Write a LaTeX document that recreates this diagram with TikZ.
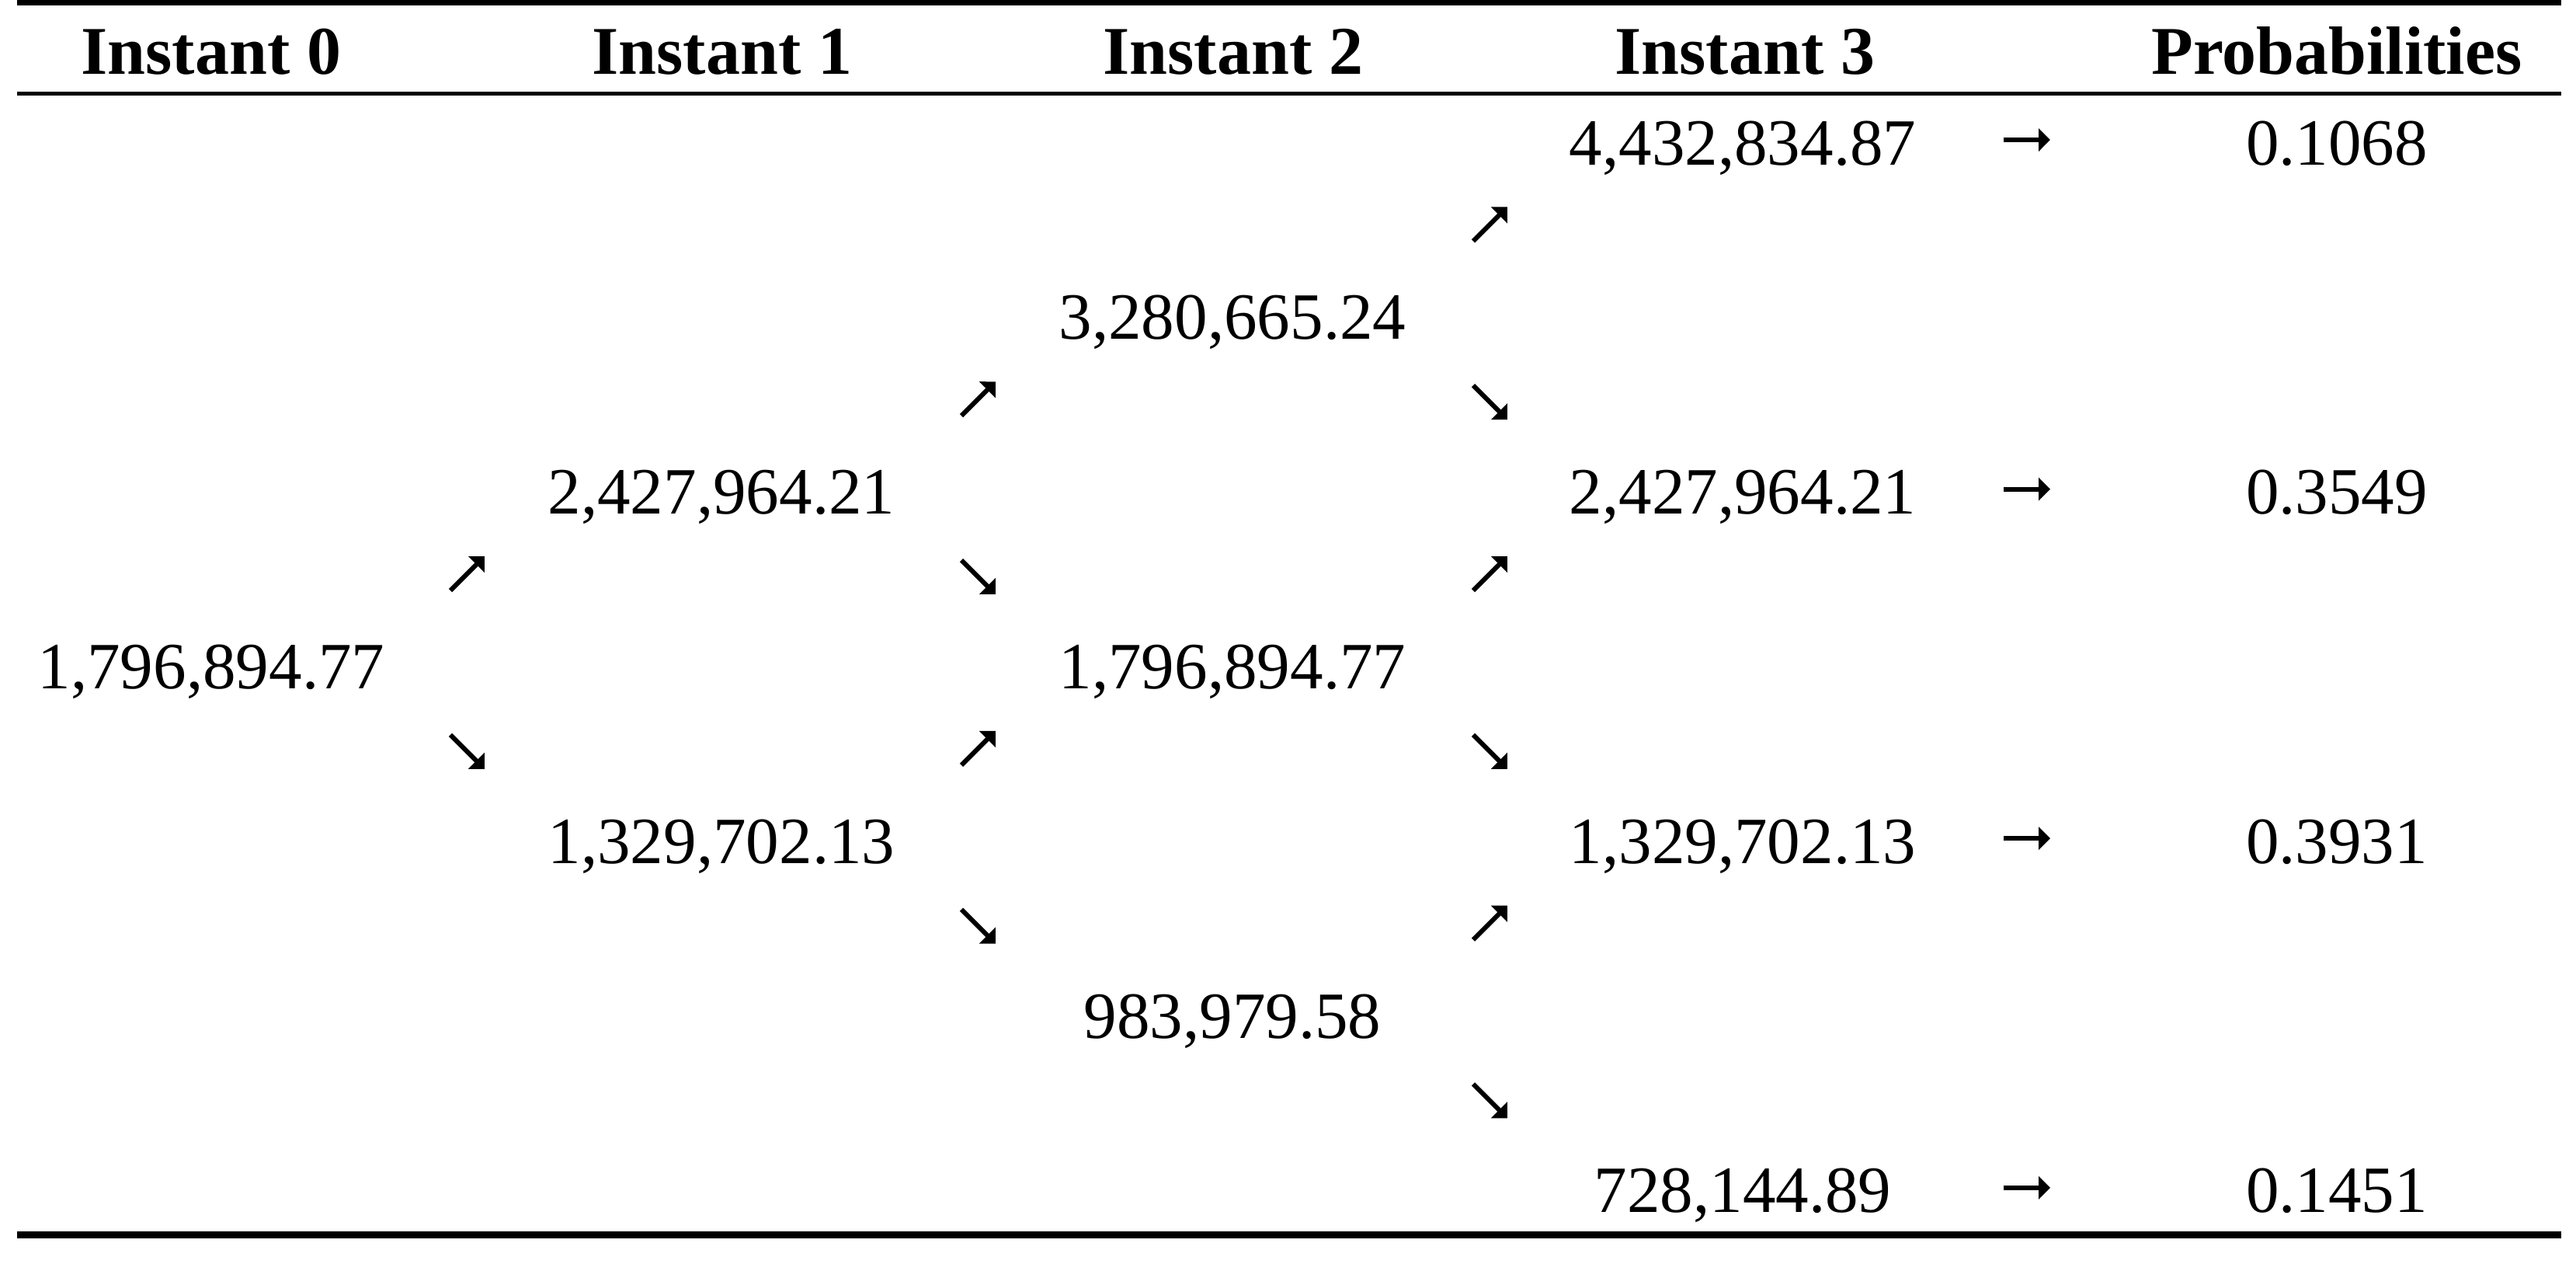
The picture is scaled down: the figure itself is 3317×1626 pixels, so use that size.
\documentclass[tikz,border=0pt]{standalone}
\usepackage{fontspec}
\setmainfont{Liberation Serif}
\usetikzlibrary{arrows.meta,calc}
\begin{document}
\begin{tikzpicture}[x=0.01cm,y=-0.01cm,
  num/.style={font=\fontsize{24.2}{29}\selectfont, inner sep=0pt, anchor=base},
  hdr/.style={font=\fontsize{25}{30}\selectfont\bfseries, inner sep=0pt, anchor=base},
  arr/.style={line width=0.06cm, -{Triangle[length=0.15cm,width=0.29cm]}},
  toprule/.style={line width=0.07cm},
  midrule/.style={line width=0.05cm},
  botrule/.style={line width=0.09cm}]
\useasboundingbox (0,0) rectangle (3317,1626);
% rules
\draw[toprule] (22,3.5) -- (3298,3.5);
\draw[midrule] (22,120.5) -- (3298,120.5);
\draw[botrule] (22,1589.5) -- (3298,1589.5);
% headers
\node[hdr] (h0) at (272,95) {Instant 0};
\node[hdr] (h1) at (930,95) {Instant 1};
\node[hdr] (h2) at (1588,95) {Instant 2};
\node[hdr] (h3) at (2247,95) {Instant 3};
\node[hdr] (hp) at (3009,95) {Probabilities};
% column 0
\node[num] (a0) at (272,886.4) {1,796,894.77};
% column 1
\node[num] (b0) at (929,661.6) {2,427,964.21};
\node[num] (b1) at (929,1111.2) {1,329,702.13};
% column 2
\node[num] (c0) at (1587,436.8) {3,280,665.24};
\node[num] (c1) at (1587,886.4) {1,796,894.77};
\node[num] (c2) at (1587,1336) {983,979.58};
% column 3
\node[num] (d0) at (2244,212) {4,432,834.87};
\node[num] (d1) at (2244,661.6) {2,427,964.21};
\node[num] (d2) at (2244,1111.2) {1,329,702.13};
\node[num] (d3) at (2244,1560.8) {728,144.89};
% probabilities
\node[num] (p0) at (3009,212) {0.1068};
\node[num] (p1) at (3009,661.6) {0.3549};
\node[num] (p2) at (3009,1111.2) {0.3931};
\node[num] (p3) at (3009,1560.8) {0.1451};
% arrow centres
\coordinate (u1) at (602,738);
\coordinate (v1) at (602,967.8);
\coordinate (u2) at (1260,513.2);
\coordinate (v2) at (1260,743);
\coordinate (u3) at (1260,962.8);
\coordinate (v3) at (1260,1192.6);
\coordinate (u4) at (1919,288.4);
\coordinate (v4) at (1919,518.2);
\coordinate (u5) at (1919,738);
\coordinate (v5) at (1919,967.8);
\coordinate (u6) at (1919,1187.6);
\coordinate (v6) at (1919,1417.4);
\foreach \c in {u1,u2,u3,u4,u5,u6}
  \draw[arr] ($(\c)+(-22,22)$) -- ($(\c)+(22,-22)$);
\foreach \c in {v1,v2,v3,v4,v5,v6}
  \draw[arr] ($(\c)+(-22,-22)$) -- ($(\c)+(22,22)$);
% horizontal arrows
\coordinate (r0) at (2610,180);
\coordinate (r1) at (2610,629.6);
\coordinate (r2) at (2610,1079.2);
\coordinate (r3) at (2610,1528.8);
\foreach \c in {r0,r1,r2,r3}
  \draw[arr] ($(\c)+(-30,0)$) -- ($(\c)+(30,0)$);
\end{tikzpicture}
\end{document}
